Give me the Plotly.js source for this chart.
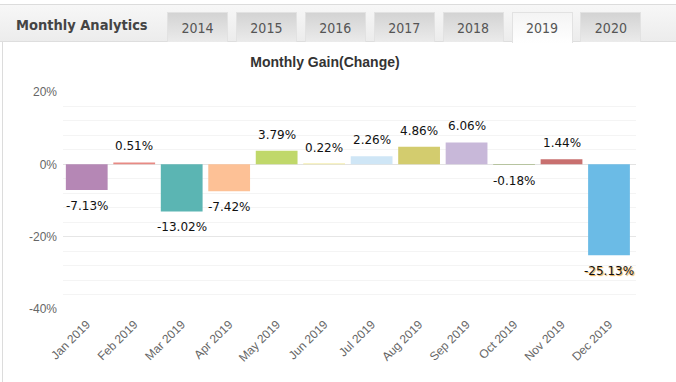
<!DOCTYPE html>
<html>
<head>
<meta charset="utf-8">
<script src="https://cdn.plot.ly/plotly-3.0.1.min.js"></script>
<style>
  html, body { margin: 0; padding: 0; background: #fff; }
  #wrap { position: relative; width: 676px; height: 382px; overflow: hidden; background: #fff; }
  #chart { position: absolute; left: 0; top: 0; width: 676px; height: 382px; }
  #header { position: absolute; left: 0; top: 4px; width: 676px; height: 38px;
            background: linear-gradient(#f7f7f7, #ececec); border-top: 1px solid #dcdcdc;
            border-bottom: 1px solid #dedede; box-sizing: border-box; }
  #leftline { position: absolute; left: 2px; top: 42px; width: 1px; height: 340px; background: #dcdcdc; }
  .htitle { position: absolute; left: 16px; top: 12px; font-family: "DejaVu Sans Condensed", "DejaVu Sans", sans-serif;
            font-weight: bold; font-size: 14.5px; color: #444; white-space: nowrap; }
  .tab { position: absolute; top: 7px; width: 61px; height: 30px; box-sizing: border-box;
         background: linear-gradient(#d3d3d3, #ebebeb); border: 1px solid #e2e2e2; border-bottom: none;
         font-family: "DejaVu Sans Condensed", "DejaVu Sans", sans-serif; font-size: 14px; color: #555;
         text-align: center; line-height: 30px; }
  .tab.sel { background: linear-gradient(#f4f4f4, #ffffff); height: 31px; }
</style>
</head>
<body>
<div id="wrap">
  <div id="chart"></div>
  <div id="header"></div>
  <div id="leftline"></div>
</div>
<script>
// ---- data ----
const months = ["Jan 2019","Feb 2019","Mar 2019","Apr 2019","May 2019","Jun 2019",
                "Jul 2019","Aug 2019","Sep 2019","Oct 2019","Nov 2019","Dec 2019"];
const gains = [-7.13, 0.51, -13.02, -7.42, 3.79, 0.22, 2.26, 4.86, 6.06, -0.18, 1.44, -25.13];
const barColors = ["#b587b5","#e88a84","#5bb5b3","#fdc196","#c0d86a","#f0e68c",
                   "#cfe6f6","#d3cc6e","#c8b8d9","#a9ba8a","#c8706f","#6bbbe6"];
const yTickVals = [20, 0, -20, -40];
const yTickText = ["20%", "0%", "-20%", "-40%"];
const years = ["2014","2015","2016","2017","2018","2019","2020"];
const selectedYear = "2019";
const headerTitle = "Monthly Analytics";
const chartTitle = "Monthly Gain(Change)";

// ---- header (tabs) ----
const header = document.getElementById("header");
const ht = document.createElement("div");
ht.className = "htitle"; ht.textContent = headerTitle; header.appendChild(ht);
years.forEach((y, i) => {
  const t = document.createElement("div");
  t.className = "tab" + (y === selectedYear ? " sel" : "");
  t.style.left = (167 + i * 68.9) + "px";
  t.textContent = y;
  header.appendChild(t);
});

// ---- chart ----
const fmt = v => v.toFixed(2) + "%";
const trace = {
  type: "bar",
  x: months,
  y: gains,
  marker: { color: barColors, line: { width: 0 } },
  hoverinfo: "none"
};
const lastIdx = gains.length - 1;
const annotations = months.map((m, i) => ({
  x: m, y: gains[i], xref: "x", yref: "y",
  text: fmt(gains[i]), showarrow: false,
  yanchor: gains[i] >= 0 ? "bottom" : "top",
  yshift: gains[i] >= 0 ? 7 : -7,
  font: { family: "DejaVu Sans, sans-serif", size: 12, color: "#111",
          shadow: i === lastIdx ? "1px 1px 1px #e8a33c" : "none" }
}));

const layout = {
  width: 676, height: 382,
  margin: { l: 63, r: 40, t: 92, b: 73 },
  paper_bgcolor: "rgba(0,0,0,0)", plot_bgcolor: "#fff",
  bargap: 0.12,
  showlegend: false,
  title: { text: chartTitle, x: 325 / 676, xanchor: "center", xref: "container",
           y: 1 - 62 / 382, yanchor: "middle", yref: "container",
           font: { family: "Liberation Sans, Arial, sans-serif", size: 14, color: "#333", weight: "bold" } },
  xaxis: {
    tickangle: -45, showgrid: false, zeroline: false, showline: false, ticks: "",
    ticklabelstandoff: 5,
    tickfont: { family: "Liberation Sans, Arial, sans-serif", size: 12, color: "#666" }
  },
  yaxis: {
    range: [-40, 20], tickvals: yTickVals, ticktext: yTickText,
    showgrid: true, gridcolor: "#e6e6e6", gridwidth: 1,
    zeroline: true, zerolinecolor: "#e3e3e3", zerolinewidth: 1,
    showline: false, ticks: "", ticklabelstandoff: 5,
    minor: { dtick: 4, tick0: 0, showgrid: true, gridcolor: "#f4f4f4", gridwidth: 1 },
    tickfont: { family: "Liberation Sans, Arial, sans-serif", size: 12, color: "#666" }
  },
  annotations: annotations
};

Plotly.newPlot("chart", [trace], layout, { staticPlot: true, displayModeBar: false });
</script>
</body>
</html>
